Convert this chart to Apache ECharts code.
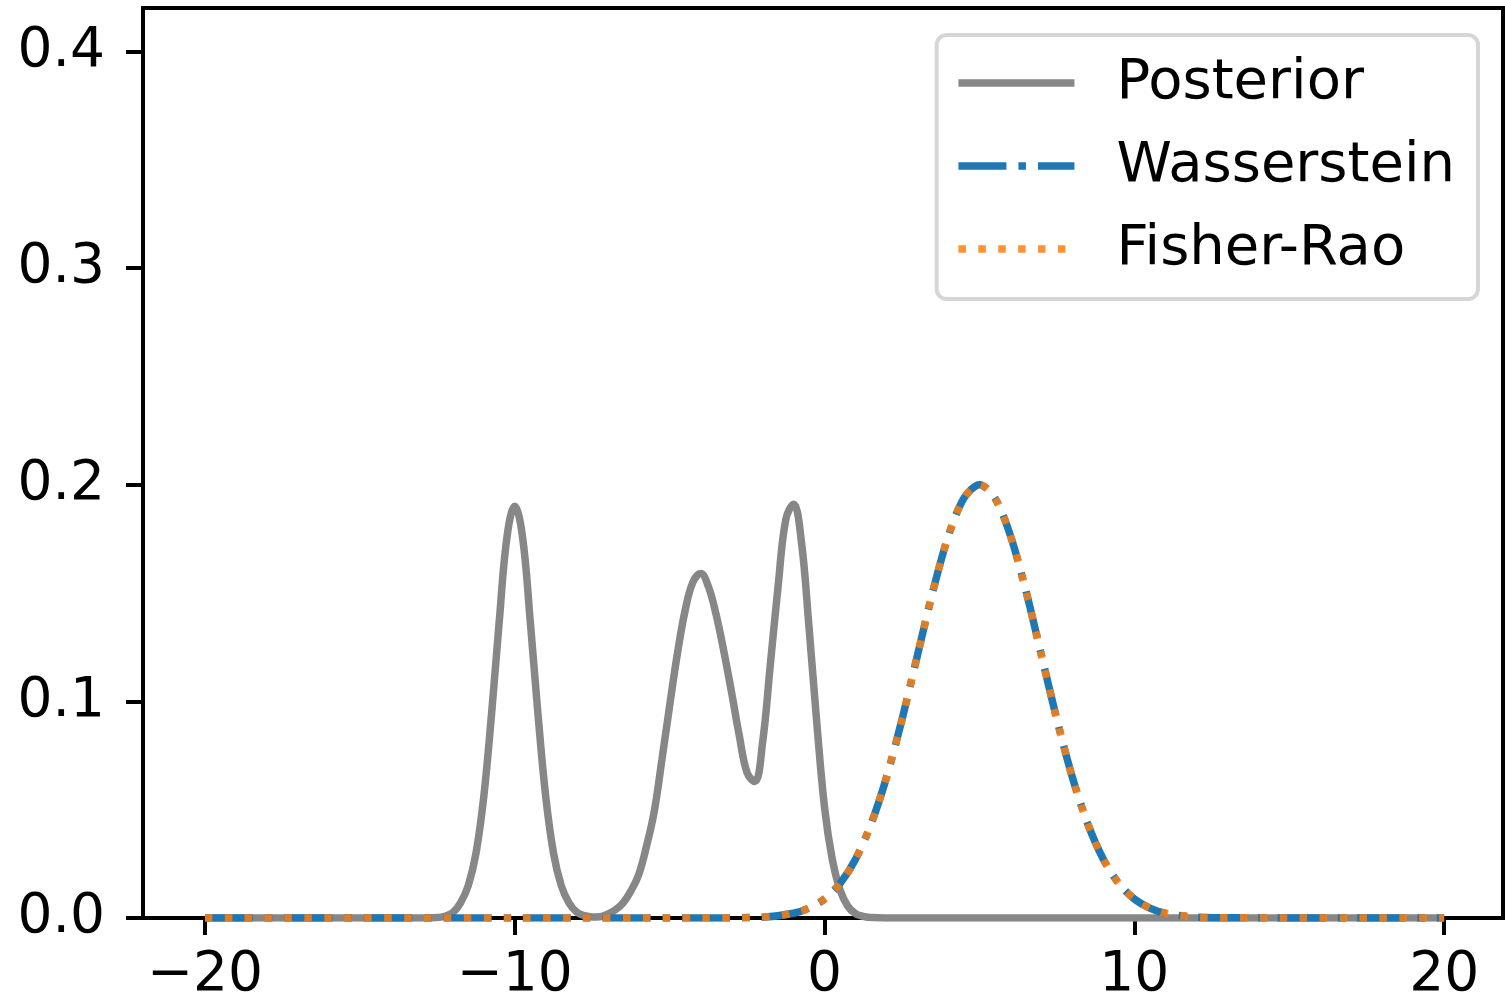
<!DOCTYPE html>
<html>
<head>
<meta charset="utf-8">
<script src="https://cdn.jsdelivr.net/npm/echarts@6/dist/echarts.min.js"></script>
<style>
  html, body { margin: 0; padding: 0; background: #fff; }
  #chart { width: 1505px; height: 1006px; }
</style>
</head>
<body>
<div id="chart"></div>
<script>
// values
var posteriorX = [-20, -13, -12.75, -12.5, -12.25, -12, -11.75, -11.5, -11.25, -11, -10.75, -10.5, -10.25,
  -10, -9.75, -9.5, -9.25, -9, -8.75, -8.5, -8.25, -8, -7.75, -7.5, -7.25, -7, -6.75, -6.5, -6.25,
  -6, -5.75, -5.5, -5.25, -5, -4.75, -4.5, -4.25, -4, -3.75, -3.5, -3.25, -3, -2.75, -2.5, -2.25,
  -2, -1.75, -1.5, -1.25, -1, -0.75, -0.5, -0.25, 0, 0.25, 0.5, 0.75, 1, 1.25, 1.5, 2, 20];
var posteriorY = [0, 0, 0, 0.0002, 0.0008, 0.0025, 0.007, 0.015, 0.030, 0.056, 0.094, 0.137, 0.176,
  0.190, 0.176, 0.137, 0.094, 0.056, 0.030, 0.015, 0.007, 0.0027, 0.0011, 0.0005, 0.0006, 0.0018, 0.0038, 0.0070, 0.0125,
  0.020, 0.033, 0.049, 0.073, 0.098, 0.122, 0.142, 0.155, 0.159, 0.153, 0.140, 0.123, 0.104, 0.084, 0.067, 0.063,
  0.081, 0.117, 0.153, 0.184, 0.191, 0.174, 0.134, 0.090, 0.051, 0.027, 0.013, 0.0055, 0.002, 0.0008, 0.0002, 0, 0];

var approxX = [-20, -10, -4, -2, -1, -0.5, 0, 0.5, 1, 1.5, 2, 2.5, 3, 3.5, 4, 4.5, 5,
  5.5, 6, 6.5, 7, 7.5, 8, 8.5, 9, 9.5, 10, 10.5, 11, 12, 13, 20];
var wassersteinY = [0, 0, 0, 0.0004, 0.0022, 0.0046, 0.0088, 0.0159, 0.0271, 0.0433, 0.0649, 0.0916, 0.1213, 0.1510, 0.1765, 0.1938, 0.2000,
  0.1938, 0.1765, 0.1510, 0.1213, 0.0916, 0.0649, 0.0433, 0.0271, 0.0159, 0.0088, 0.0046, 0.0022, 0.0004, 0.0001, 0];
var fisherRaoY = [0, 0, 0, 0.0004, 0.0022, 0.0046, 0.0088, 0.0159, 0.0271, 0.0433, 0.0649, 0.0916, 0.1213, 0.1510, 0.1765, 0.1938, 0.2000,
  0.1938, 0.1765, 0.1510, 0.1213, 0.0916, 0.0649, 0.0433, 0.0271, 0.0159, 0.0088, 0.0046, 0.0022, 0.0004, 0.0001, 0];

var xTicks = [-20, -10, 0, 10, 20];
var yTicks = [0, 0.1, 0.2, 0.3, 0.4];

function pairs(xs, ys) {
  return xs.map(function (x, i) { return [x, ys[i]]; });
}

var font = 'DejaVu Sans';
var gray = '#878787';
var blue = '#1f77b4';
var orange = 'rgba(255,127,14,0.85)';

var option = {
  animation: false,
  backgroundColor: '#fff',
  grid: {
    left: 143, right: 2, top: 8, bottom: 88,
    show: true, borderColor: '#000', borderWidth: 4, backgroundColor: 'transparent'
  },
  legend: {
    orient: 'vertical',
    right: 27,
    top: 35,
    padding: [20, 23, 22, 18],
    itemWidth: 116,
    itemHeight: 55,
    itemGap: 27,
    backgroundColor: 'rgba(255,255,255,0.8)',
    borderColor: '#d6d6d6',
    borderWidth: 4,
    borderRadius: 10,
    itemStyle: { opacity: 0 },
    lineStyle: { width: 7.5 },
    textStyle: { fontFamily: font, fontSize: 56, color: '#000', lineHeight: 55, padding: [0, 0, 0, 37] },
    data: ['Posterior', 'Wasserstein', 'Fisher-Rao']
  },
  xAxis: {
    type: 'value',
    min: -22,
    max: 21.9,
    axisLine: { onZero: false, lineStyle: { color: '#000', width: 4 } },
    axisTick: { customValues: xTicks, length: 17, lineStyle: { color: '#000', width: 4 } },
    axisLabel: {
      customValues: xTicks,
      margin: 30,
      fontFamily: font, fontSize: 55, color: '#000',
      formatter: function (v) { return String(v).replace('-', '\u2212'); }
    },
    splitLine: { show: false }
  },
  yAxis: {
    type: 'value',
    min: 0,
    max: 0.42,
    axisLine: { onZero: false, lineStyle: { color: '#000', width: 4 } },
    axisTick: { customValues: yTicks, length: 17, lineStyle: { color: '#000', width: 4 } },
    axisLabel: {
      customValues: yTicks,
      margin: 38,
      fontFamily: font, fontSize: 55, color: '#000',
      formatter: function (v) { return v.toFixed(1); }
    },
    splitLine: { show: false }
  },
  series: [
    {
      name: 'Posterior',
      type: 'line',
      data: pairs(posteriorX, posteriorY),
      symbol: 'none',
      smooth: 0.4,
      color: gray,
      lineStyle: { color: gray, width: 7.5 }
    },
    {
      name: 'Wasserstein',
      type: 'line',
      data: pairs(approxX, wassersteinY),
      symbol: 'none',
      smooth: 0.3,
      color: blue,
      lineStyle: { color: blue, width: 7.5, type: [48, 12, 7.5, 12] }
    },
    {
      name: 'Fisher-Rao',
      type: 'line',
      data: pairs(approxX, fisherRaoY),
      symbol: 'none',
      smooth: 0.3,
      color: orange,
      lineStyle: { color: orange, width: 7.5, type: [7.5, 12.4] }
    }
  ]
};

var myChart = echarts.init(document.getElementById('chart'));
myChart.setOption(option);
</script>
</body>
</html>
